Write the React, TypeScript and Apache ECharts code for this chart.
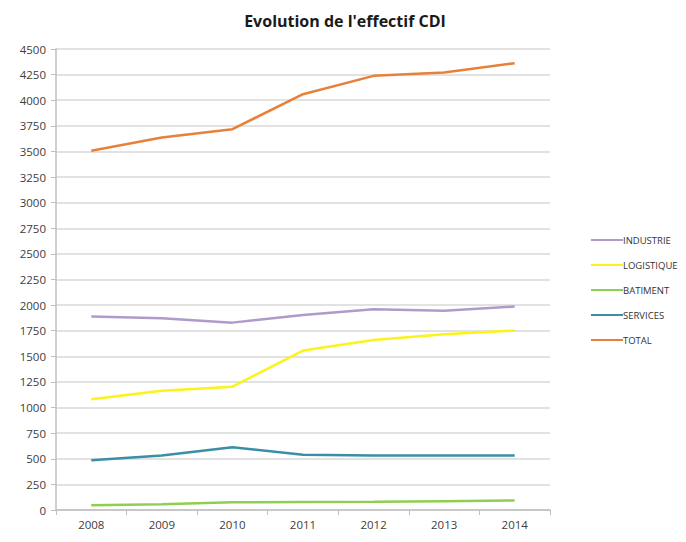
import React, { useEffect, useRef } from "react";
import * as echarts from "echarts";

const years = ["2008", "2009", "2010", "2011", "2012", "2013", "2014"];
const industrie = [1888, 1872, 1829, 1904, 1960, 1946, 1986];
const logistique = [1081, 1165, 1204, 1556, 1660, 1715, 1751];
const batiment = [46, 55, 76, 78, 80, 86, 93];
const services = [485, 531, 612, 540, 531, 531, 531];
const total = [3506, 3636, 3717, 4059, 4238, 4271, 4362];

const seriesDefs = [
  { name: "INDUSTRIE", data: industrie, color: "#ae9bcb" },
  { name: "LOGISTIQUE", data: logistique, color: "#fbf319" },
  { name: "BATIMENT", data: batiment, color: "#8fcf50" },
  { name: "SERVICES", data: services, color: "#3a8fa7" },
  { name: "TOTAL", data: total, color: "#e8803a" },
];

export default function App() {
  const ref = useRef<HTMLDivElement>(null);
  useEffect(() => {
    if (!ref.current) return;
    const chart = echarts.init(ref.current, undefined, { renderer: "svg" });
    const font = "'Open Sans', 'Noto Sans', sans-serif";
    chart.setOption({
      animation: false,
      backgroundColor: "#ffffff",
      title: {
        text: "Evolution de l'effectif CDI",
        left: 340,
        textAlign: "center",
        top: 8,
        textStyle: { fontFamily: font, fontSize: 16, fontWeight: "bold", color: "#1a1a1a" },
      },
      legend: {
        orient: "vertical",
        left: 586,
        top: 230,
        itemGap: 15,
        itemWidth: 32,
        itemHeight: 10,
        icon: "path://M0,4 L32,4 L32,6 L0,6 Z",
        data: seriesDefs.map((s) => s.name),
        textStyle: { fontFamily: font, fontSize: 9.5, color: "#333333", padding: [0, 0, 0, -5] },
      },
      grid: { left: 56, right: 136, top: 49, bottom: 32, containLabel: false },
      xAxis: {
        type: "category",
        data: years,
        boundaryGap: true,
        axisLine: { lineStyle: { color: "#bfbfbf", width: 1.5 } },
        axisTick: { show: true, alignWithLabel: false, length: 5, lineStyle: { color: "#bfbfbf" } },
        axisLabel: { fontFamily: font, fontSize: 11.5, color: "#404040", margin: 8 },
      },
      yAxis: {
        type: "value",
        min: 0,
        max: 4500,
        interval: 250,
        axisLine: { show: true, lineStyle: { color: "#bfbfbf", width: 1.5 } },
        axisTick: { show: true, length: 5, lineStyle: { color: "#bfbfbf" } },
        axisLabel: {
          fontFamily: font,
          fontSize: 11.5,
          color: "#404040",
          margin: 10,
          formatter: (v: number) => String(v),
        },
        splitLine: { lineStyle: { color: "#d9d9d9", width: 1.5 } },
      },
      series: seriesDefs.map((s) => ({
        name: s.name,
        type: "line",
        data: s.data,
        symbol: "none",
        color: s.color,
        lineStyle: { width: 2.5, color: s.color },
      })),
    });
    return () => chart.dispose();
  }, []);
  return <div ref={ref} style={{ width: 686, height: 542, position: "absolute", left: 0, top: 0 }} />;
}
